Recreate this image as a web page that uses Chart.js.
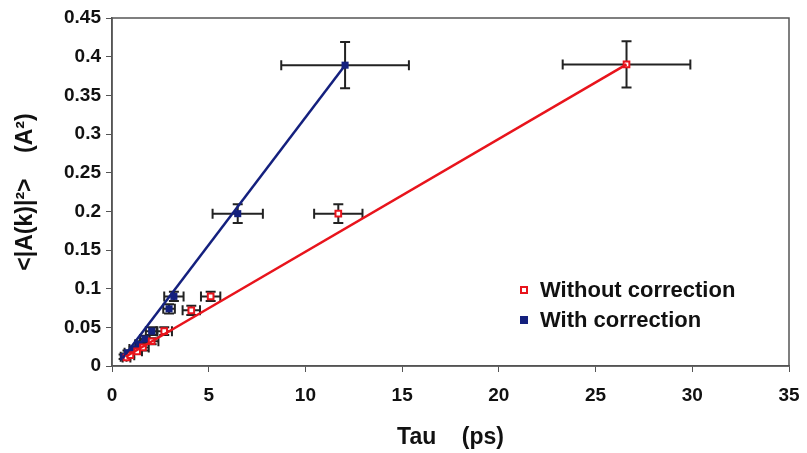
<!DOCTYPE html>
<html>
<head>
<meta charset="utf-8">
<script src="https://cdn.jsdelivr.net/npm/chart.js@4.4.0/dist/chart.umd.min.js"></script>
<style>
  html, body { margin: 0; padding: 0; background: #fff; }
  #wrap { width: 807px; height: 453px; }
</style>
</head>
<body>
<div id="wrap"><canvas id="c" width="807" height="453"></canvas></div>
<script>
// Without correction (red, hollow squares)
const redTau = [0.75, 0.95, 1.3, 1.6, 2.05, 2.7, 4.1, 5.1, 11.7, 26.6];
const redA2 = [0.011, 0.014, 0.019, 0.024, 0.032, 0.045, 0.072, 0.09, 0.197, 0.39];
const redTauErr = [0.2, 0.2, 0.25, 0.3, 0.35, 0.4, 0.45, 0.5, 1.25, 3.3];
const redA2Err = [0.003, 0.003, 0.003, 0.004, 0.004, 0.005, 0.006, 0.006, 0.012, 0.03];

// With correction (blue, filled squares)
const blueTau = [0.6, 0.8, 1.1, 1.4, 1.7, 2.05, 2.95, 3.2, 6.5, 12.05];
const blueA2 = [0.012, 0.017, 0.022, 0.028, 0.035, 0.045, 0.074, 0.09, 0.197, 0.389];
const blueTauErr = [0.15, 0.15, 0.2, 0.2, 0.25, 0.3, 0.3, 0.5, 1.3, 3.3];
const blueA2Err = [0.003, 0.003, 0.003, 0.004, 0.004, 0.005, 0.006, 0.006, 0.012, 0.03];

// trend lines (start / end)
const redFitTau = [0.7, 26.6];
const redFitA2 = [0.012, 0.39];
const blueFitTau = [0.55, 12.05];
const blueFitA2 = [0.01, 0.389];

const legendLabels = ['Without correction', 'With correction'];
const xTicks = [0, 5, 10, 15, 20, 25, 30, 35];
const yTicks = [0, 0.05, 0.1, 0.15, 0.2, 0.25, 0.3, 0.35, 0.4, 0.45];

const RED = '#e8141c';
const BLUE = '#14207e';
const FONT = '"Liberation Sans", Arial, sans-serif';

const pts = (xs, ys) => xs.map((x, i) => ({ x: x, y: ys[i] }));

// error bars + frame + legend
const extras = {
  id: 'extras',
  beforeDatasetsDraw(chart) {
    const ctx = chart.ctx;
    const xs = chart.scales.x, ys = chart.scales.y;
    ctx.save();
    ctx.strokeStyle = '#222';
    ctx.lineWidth = 2;
    const cap = 5;
    const bars = [[redTau, redA2, redTauErr, redA2Err], [blueTau, blueA2, blueTauErr, blueA2Err]];
    bars.forEach(([tx, ay, ex, ey]) => {
      tx.forEach((t, i) => {
        const px = xs.getPixelForValue(t), py = ys.getPixelForValue(ay[i]);
        const x0 = xs.getPixelForValue(t - ex[i]), x1 = xs.getPixelForValue(t + ex[i]);
        const y0 = ys.getPixelForValue(ay[i] - ey[i]), y1 = ys.getPixelForValue(ay[i] + ey[i]);
        ctx.beginPath();
        ctx.moveTo(x0, py); ctx.lineTo(x1, py);
        ctx.moveTo(x0, py - cap); ctx.lineTo(x0, py + cap);
        ctx.moveTo(x1, py - cap); ctx.lineTo(x1, py + cap);
        ctx.moveTo(px, y0); ctx.lineTo(px, y1);
        ctx.moveTo(px - cap, y0); ctx.lineTo(px + cap, y0);
        ctx.moveTo(px - cap, y1); ctx.lineTo(px + cap, y1);
        ctx.stroke();
      });
    });
    ctx.restore();
  },
  afterDraw(chart) {
    const ctx = chart.ctx, a = chart.chartArea;
    ctx.save();
    ctx.strokeStyle = '#555';
    ctx.lineWidth = 1.5;
    ctx.strokeRect(a.left, a.top, a.right - a.left, a.bottom - a.top);

    // legend
    ctx.font = 'bold 22px ' + FONT;
    ctx.textBaseline = 'middle';
    const lx = 524, ly = [290, 320];
    legendLabels.forEach((txt, i) => {
      if (i === 0) {
        ctx.fillStyle = '#fff';
        ctx.fillRect(lx - 3, ly[i] - 3, 6, 6);
        ctx.strokeStyle = RED; ctx.lineWidth = 2;
        ctx.strokeRect(lx - 3, ly[i] - 3, 6, 6);
      } else {
        ctx.fillStyle = BLUE;
        ctx.fillRect(lx - 4, ly[i] - 4, 8, 8);
      }
      ctx.fillStyle = '#111';
      ctx.fillText(txt, lx + 16, ly[i] + 1);
    });
    ctx.restore();
  }
};

new Chart(document.getElementById('c'), {
  type: 'scatter',
  data: {
    datasets: [
      { data: pts(redFitTau, redFitA2), showLine: true, borderColor: RED, borderWidth: 2.5, pointRadius: 0 },
      { data: pts(blueFitTau, blueFitA2), showLine: true, borderColor: BLUE, borderWidth: 2.5, pointRadius: 0 },
      { label: legendLabels[0], data: pts(redTau, redA2), pointStyle: 'rect', pointRadius: 4, pointBorderWidth: 2, borderColor: RED, backgroundColor: '#fff' },
      { label: legendLabels[1], data: pts(blueTau, blueA2), pointStyle: 'rect', pointRadius: 5, pointBorderWidth: 0, borderColor: BLUE, backgroundColor: BLUE }
    ]
  },
  options: {
    responsive: false,
    animation: false,
    layout: { padding: { top: 18, right: 18, left: 0, bottom: 0 } },
    plugins: { legend: { display: false }, tooltip: { enabled: false } },
    scales: {
      x: {
        type: 'linear', min: 0, max: 35,
        afterBuildTicks: s => { s.ticks = xTicks.map(v => ({ value: v })); },
        afterFit: s => { s.height = 87; s.paddingRight = 0; s.paddingLeft = 0; },
        grid: { drawOnChartArea: false, drawTicks: true, tickLength: 6, color: '#555' },
        border: { color: '#555', width: 1.5 },
        ticks: { color: '#111', font: { family: FONT, size: 19, weight: 'bold' }, padding: 12 },
        title: { display: true, text: 'Tau    (ps)', color: '#111', font: { family: FONT, size: 23, weight: 'bold' }, padding: { top: 4, bottom: 2 } }
      },
      y: {
        type: 'linear', min: 0, max: 0.45,
        afterBuildTicks: s => { s.ticks = yTicks.map(v => ({ value: v })); },
        afterFit: s => { s.width = 112; },
        grid: { drawOnChartArea: false, drawTicks: true, tickLength: 6, color: '#555' },
        border: { color: '#555', width: 1.5 },
        ticks: { color: '#111', font: { family: FONT, size: 19, weight: 'bold' }, padding: 5,
                 callback: v => String(parseFloat(v.toFixed(2))) },
        title: { display: true, text: '<|A(k)|²>    (A²)', color: '#111', font: { family: FONT, size: 23, weight: 'bold' }, padding: { top: 12, bottom: 12 } }
      }
    }
  },
  plugins: [extras]
});
</script>
</body>
</html>
